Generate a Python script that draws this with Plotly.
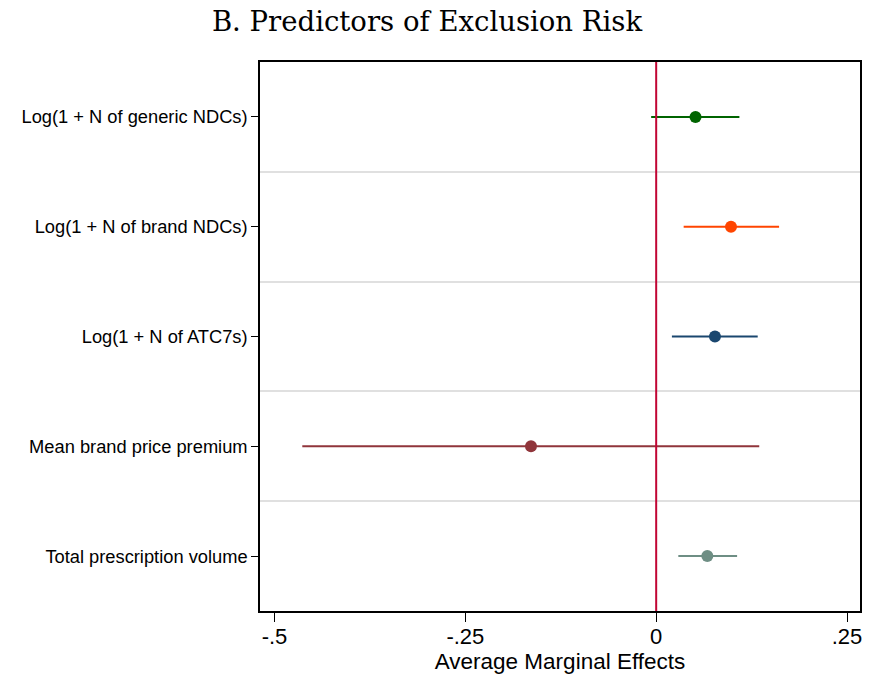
import plotly.graph_objects as go

categories = [
    "Log(1 + N of generic NDCs)",
    "Log(1 + N of brand NDCs)",
    "Log(1 + N of ATC7s)",
    "Mean brand price premium",
    "Total prescription volume",
]
estimates = [0.0515, 0.098, 0.077, -0.164, 0.067]
ci_low = [-0.0066, 0.036, 0.0206, -0.4636, 0.029]
ci_high = [0.109, 0.161, 0.133, 0.135, 0.106]
colors = ["#006400", "#ff4500", "#1a476f", "#90353b", "#6e8e84"]
x_ticks = [-0.5, -0.25, 0, 0.25]
x_tick_labels = ["-.5", "-.25", "0", ".25"]

# page has an 8px body margin; compensate
OFF = 8
W, H = 881 - OFF, 675 - OFF
L, R, T, B = 260 - OFF, 21, 62 - OFF, 64
PW, PH = W - L - R, H - T - B

fig = go.Figure()
for i, cat in enumerate(categories):
    fig.add_trace(go.Scatter(
        x=[estimates[i]], y=[i],
        mode="markers",
        marker=dict(color=colors[i], size=12),
        error_x=dict(type="data", symmetric=False,
                     array=[ci_high[i] - estimates[i]],
                     arrayminus=[estimates[i] - ci_low[i]],
                     color=colors[i], thickness=2, width=0),
        showlegend=False,
    ))

fig.add_shape(type="line", x0=0, x1=0, y0=0, y1=1, xref="x", yref="paper",
              line=dict(color="#c10534", width=2), layer="above")

fig.update_layout(
    width=W, height=H,
    paper_bgcolor="white", plot_bgcolor="white",
    margin=dict(l=L, r=R, t=T, b=B, autoexpand=False),
    font=dict(family="Liberation Sans, Arial, sans-serif", color="black"),
    title=dict(text="B. Predictors of Exclusion Risk",
               x=(427 - OFF) / W, xanchor="center", xref="container",
               y=1 - (21 - OFF) / H, yanchor="middle", yref="container",
               font=dict(family="DejaVu Serif, serif", size=27.5, color="black")),
)

fig.update_xaxes(
    range=[-0.519, 0.267], tickvals=x_ticks, ticktext=x_tick_labels,
    showgrid=False, zeroline=False,
    showline=True, linecolor="black", linewidth=1.5, mirror=True,
    ticks="outside", ticklen=9, tickcolor="black", tickwidth=1,
    tickfont=dict(size=22), ticklabelstandoff=-4,
    title=dict(text="Average Marginal Effects", font=dict(size=22.5), standoff=3),
)
fig.update_yaxes(
    range=[4.5, -0.5], tickvals=list(range(len(categories))), ticktext=categories,
    showgrid=False, zeroline=False,
    showline=True, linecolor="black", linewidth=1.5, mirror=True,
    ticks="outside", ticklen=7, tickcolor="black", tickwidth=1,
    tickfont=dict(size=18.3),
    minor=dict(tickvals=[0.5, 1.5, 2.5, 3.5], showgrid=True, gridcolor="#e0e0e0",
               gridwidth=2, ticklen=0),
)

fig.write_html("out.html")
